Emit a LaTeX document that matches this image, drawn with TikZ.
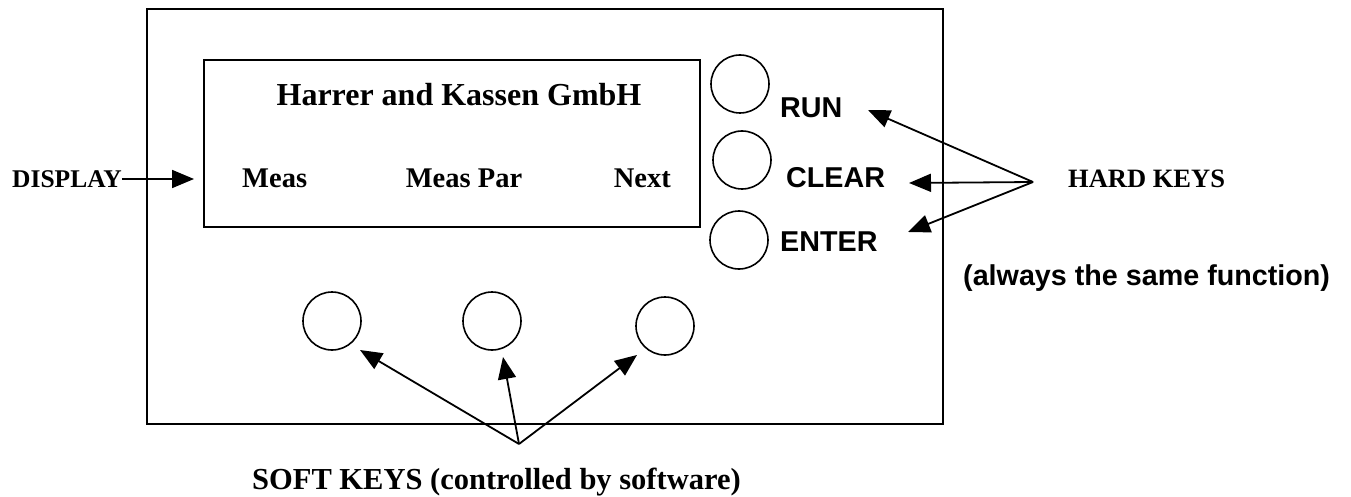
\documentclass[tikz,border=0pt]{standalone}
\usepackage{fontspec}
\setmainfont{Liberation Serif}
\newfontfamily\arialf{Liberation Sans}
\usetikzlibrary{arrows.meta}
\tikzset{
  frame/.style={draw=black, line width=2pt},
  keycircle/.style={draw=black, line width=1.6pt, circle, minimum size=58pt, inner sep=0pt},
  serlbl/.style={inner sep=0pt, font=\bfseries},
  sanslbl/.style={inner sep=0pt, font=\arialf\bfseries\fontsize{28.7}{34}\selectfont},
  arr/.style={line width=1.8pt, -{Triangle[length=22pt,width=18pt]}},
}
\begin{document}
\begin{tikzpicture}[x=1pt,y=-1pt]
\useasboundingbox (0,0) rectangle (1351,497);
% outer panel and display
\draw[frame] (147,9) rectangle (943,424);
\node[frame, rectangle, minimum width=496pt, minimum height=167pt, inner sep=0pt, line width=1.8pt] (disp) at (452,143.5) {};
% display texts
\node[serlbl, anchor=base, font=\bfseries\fontsize{32}{38}\selectfont] (title) at (459,106) {Harrer and Kassen GmbH};
\node[serlbl, anchor=base west, font=\bfseries\fontsize{28.5}{34}\selectfont] (meas) at (242,187) {Meas};
\node[serlbl, anchor=base, font=\bfseries\fontsize{28.5}{34}\selectfont] (measpar) at (464,187) {Meas Par};
\node[serlbl, anchor=base east, font=\bfseries\fontsize{28.5}{34}\selectfont] (next) at (671,187) {Next};
% hard keys
\node[keycircle] (hk1) at (740,84) {};
\node[keycircle] (hk2) at (742,160) {};
\node[keycircle] (hk3) at (739,240) {};
\node[sanslbl, anchor=base west] (run) at (780,118) {RUN};
\node[sanslbl, anchor=base west] (clear) at (786,187) {CLEAR};
\node[sanslbl, anchor=base west] (enter) at (780,251) {ENTER};
% soft keys
\node[keycircle] (sk1) at (332,321) {};
\node[keycircle] (sk2) at (492,321) {};
\node[keycircle] (sk3) at (665,326) {};
% outside labels
\node[serlbl, anchor=base west, font=\bfseries\fontsize{25.5}{30}\selectfont] (displbl) at (12,187) {DISPLAY};
\node[serlbl, anchor=base west, font=\bfseries\fontsize{26.5}{31}\selectfont] (hardlbl) at (1068,187) {HARD KEYS};
\node[sanslbl, anchor=base west] (always) at (963,285) {(always the same function)};
\node[serlbl, anchor=base west, font=\bfseries\fontsize{30.5}{36}\selectfont] (softlbl) at (252,489) {SOFT KEYS (controlled by software)};
% connector points
\coordinate (hkjoin) at (1033,182);
\coordinate (sjoin) at (519,444);
\coordinate (runtip) at (868,110);
\coordinate (cleartip) at (909,183);
\coordinate (entertip) at (908,232);
\coordinate (s1tip) at (360,350);
\coordinate (s2tip) at (503,357);
\coordinate (s3tip) at (637,355);
\coordinate (disptip) at (194,179);
% arrows
\draw[arr] (displbl.east |- disptip) -- (disptip);
\draw[arr] (hkjoin) -- (runtip);
\draw[arr] (hkjoin) -- (cleartip);
\draw[arr] (hkjoin) -- (entertip);
\draw[arr] (sjoin) -- (s1tip);
\draw[arr] (sjoin) -- (s2tip);
\draw[arr] (sjoin) -- (s3tip);
\end{tikzpicture}
\end{document}
